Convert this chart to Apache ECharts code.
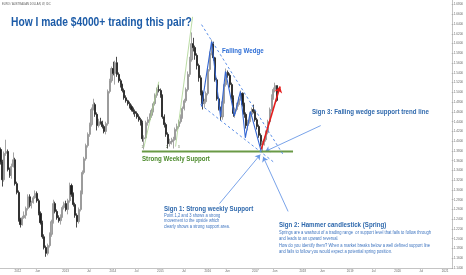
<!DOCTYPE html>
<html><head><meta charset="utf-8">
<script src="https://cdn.jsdelivr.net/npm/echarts@6/dist/echarts.min.js"></script>
<style>html,body{margin:0;padding:0;background:#fff}#c{width:466px;height:275px}</style>
</head><body><div id="c"></div>
<script>
// ---- data ----
const startDate = [2011, 7, 20];   // first (bi-weekly) candle
const stepDays = 14;
const firstOpen = 1.383;
const closes = [1.358,1.321,1.375,1.379,1.342,1.330,1.348,1.362,1.313,1.295,
1.239,1.229,1.243,1.248,1.262,1.286,1.268,1.274,1.284,1.293,
1.278,1.252,1.233,1.204,1.182,1.170,1.186,1.209,1.235,1.272,
1.256,1.243,1.237,1.245,1.264,1.272,1.260,1.278,1.309,1.291,
1.270,1.248,1.235,1.260,1.295,1.336,1.364,1.391,1.414,1.434,
1.465,1.475,1.455,1.432,1.440,1.438,1.430,1.420,1.436,1.502,
1.524,1.549,1.539,1.561,1.537,1.524,1.516,1.504,1.489,1.483,
1.477,1.471,1.465,1.461,1.457,1.450,1.444,1.438,1.405,1.407,
1.438,1.444,1.453,1.463,1.477,1.494,1.506,1.504,1.494,1.450,
1.434,1.414,1.395,1.399,1.399,1.403,1.424,1.430,1.440,1.450,
1.467,1.483,1.506,1.537,1.567,1.600,1.592,1.576,1.555,1.530,
1.500,1.477,1.481,1.498,1.547,1.580,1.600,1.571,1.526,1.487,
1.467,1.450,1.481,1.516,1.541,1.535,1.516,1.489,1.457,1.465,
1.475,1.487,1.498,1.475,1.455,1.432,1.440,1.455,1.465,1.461,
1.444,1.430,1.412,1.393,1.399,1.403,1.418,1.440,1.465,1.489,
1.506,1.514,1.4836];
const highs = [1.387,1.362,1.379,1.403,1.383,1.346,1.354,1.377,1.366,1.317,
1.299,1.243,1.247,1.256,1.266,1.291,1.291,1.278,1.288,1.299,
1.297,1.282,1.256,1.237,1.209,1.186,1.190,1.213,1.239,1.280,
1.276,1.260,1.248,1.250,1.268,1.276,1.278,1.282,1.315,1.313,
1.295,1.274,1.252,1.264,1.299,1.340,1.368,1.395,1.418,1.438,
1.469,1.487,1.479,1.459,1.446,1.448,1.442,1.434,1.440,1.506,
1.528,1.553,1.563,1.565,1.573,1.541,1.528,1.518,1.508,1.494,
1.485,1.481,1.475,1.469,1.465,1.461,1.455,1.448,1.442,1.412,
1.442,1.450,1.457,1.467,1.481,1.498,1.510,1.516,1.508,1.496,
1.455,1.438,1.418,1.405,1.407,1.409,1.428,1.436,1.444,1.455,
1.471,1.487,1.510,1.543,1.573,1.623,1.612,1.596,1.580,1.559,
1.535,1.504,1.487,1.502,1.553,1.584,1.608,1.604,1.573,1.530,
1.491,1.471,1.485,1.520,1.549,1.545,1.539,1.520,1.494,1.469,
1.479,1.491,1.504,1.500,1.479,1.459,1.444,1.459,1.469,1.475,
1.465,1.448,1.434,1.416,1.401,1.409,1.422,1.444,1.469,1.496,
1.510,1.520,1.514];
const lows = [1.352,1.307,1.317,1.370,1.338,1.325,1.323,1.346,1.309,1.291,
1.235,1.223,1.227,1.241,1.241,1.258,1.264,1.262,1.272,1.282,
1.274,1.248,1.229,1.200,1.178,1.163,1.166,1.182,1.204,1.231,
1.252,1.239,1.233,1.229,1.243,1.260,1.256,1.250,1.274,1.286,
1.266,1.243,1.223,1.231,1.256,1.291,1.332,1.360,1.387,1.409,
1.430,1.463,1.450,1.422,1.428,1.434,1.426,1.416,1.414,1.432,
1.498,1.520,1.535,1.516,1.532,1.520,1.510,1.500,1.485,1.479,
1.473,1.467,1.461,1.455,1.450,1.446,1.440,1.432,1.399,1.383,
1.405,1.432,1.440,1.448,1.459,1.473,1.489,1.500,1.489,1.446,
1.428,1.409,1.385,1.389,1.393,1.385,1.401,1.420,1.426,1.436,
1.446,1.463,1.479,1.502,1.532,1.563,1.584,1.567,1.547,1.522,
1.494,1.465,1.469,1.477,1.494,1.543,1.576,1.565,1.522,1.483,
1.463,1.442,1.444,1.477,1.512,1.530,1.510,1.485,1.450,1.448,
1.461,1.471,1.483,1.471,1.448,1.426,1.422,1.436,1.450,1.457,
1.440,1.424,1.407,1.389,1.377,1.391,1.399,1.414,1.436,1.461,
1.485,1.500,1.481];
const lastPrice = 1.4836;

const yTicks = [1.14,1.16,1.18,1.20,1.22,1.24,1.26,1.28,1.30,1.32,1.34,1.36,1.38,1.40,
  1.42,1.44,1.46,1.48,1.50,1.52,1.54,1.56,1.58,1.60,1.62,1.64,1.66,1.68];
const xTickDates = ['2012-01-01','2012-06-01','2013-01-01','2013-07-01','2014-01-01','2014-07-01',
  '2015-01-01','2015-07-01','2016-01-01','2016-06-01','2017-01-01','2017-06-01','2018-01-01',
  '2018-06-01','2019-01-01','2019-07-01','2020-01-01','2020-07-01','2021-01-01'];
const xTickLabels = ['2012','Jun','2013','Jul','2014','Jul','2015','Jul','2016','Jun','2017','Jun',
  '2018','Jun','2019','Jul','2020','Jul','2021'];

// annotations (date, price)
const supportLine = [['2014-08-12', 1.3787], ['2017-10-18', 1.3787]];
const greenRay1 = [['2014-08-27', 1.387], ['2014-12-20', 1.522]];
const greenRay2 = [['2015-04-28', 1.389], ['2015-09-06', 1.655]];
const wedgeUpper = [['2015-11-14', 1.639], ['2017-08-03', 1.3725]];
const wedgeLower = [['2015-11-06', 1.475], ['2017-05-18', 1.358]];
const wedgeZigDates = ['2015-11-14','2016-01-30','2016-04-08','2016-05-16','2016-07-24',
  '2016-09-08','2016-10-16','2016-11-24','2017-02-15'];
const wedgeZigPrices = [1.471, 1.604, 1.450, 1.543, 1.452, 1.502, 1.407, 1.461, 1.379];
const redArrow = [['2017-02-15', 1.383], ['2017-07-10', 1.512]];
const blueArrows = [
  [['2016-03-31', 1.272], ['2017-02-08', 1.3725]],
  [['2017-09-10', 1.256], ['2017-03-02', 1.368]],
  [['2018-05-19', 1.432], ['2017-03-18', 1.379]]
];

// ---- build ----
const DAY = 86400000;
function ts(s) { const p = s.split('-').map(Number); return Date.UTC(p[0], p[1]-1, p[2]); }
const t0 = Date.UTC(startDate[0], startDate[1], startDate[2]);
const candles = closes.map((c, i) => {
  const o = i === 0 ? firstOpen : closes[i-1];
  return [t0 + i*stepDays*DAY, o, c, lows[i], highs[i]];
});
const pts = arr => arr.map(d => [ts(d[0]), d[1]]);
const xTickTs = xTickDates.map(ts);
const labelMap = {};
xTickTs.forEach((t, i) => labelMap[t] = xTickLabels[i]);

const fontN = "'Liberation Sans','Arial',sans-serif";
const NARROW = 0.82;
const chart = echarts.init(document.getElementById('c'), null, {renderer: 'canvas'});

function lineSeries(data, style) {
  return {type: 'line', data: pts(data), showSymbol: false, symbol: 'none', silent: true,
    lineStyle: style, z: 5, animation: false};
}

const blueStyle = {color: '#6a98e6', width: 0.9, type: 'solid'};
const arrowItems = blueArrows.map(a => [
  {coord: [ts(a[0][0]), a[0][1]], symbol: 'none', lineStyle: blueStyle},
  {coord: [ts(a[1][0]), a[1][1]], symbol: 'arrow', symbolSize: 5}
]);
const redItem = [
  {coord: [ts(redArrow[0][0]), redArrow[0][1]], symbol: 'none', lineStyle: {color: '#e41e1e', width: 1.6, type: 'solid'}},
  {coord: [ts(redArrow[1][0]), redArrow[1][1]], symbol: 'arrow', symbolSize: 6}
];

const txt = (x, y, text, size, weight, color, extra) => ({
  type: 'text', x: x, y: y, scaleX: NARROW, silent: true, z: 10,
  style: Object.assign({text: text, fontSize: size, fontWeight: weight, fontFamily: fontN,
    fill: color, align: 'left', verticalAlign: 'middle'}, extra || {})
});

chart.setOption({
  animation: false,
  backgroundColor: '#ffffff',
  grid: {left: 0, right: 11, top: 0, bottom: 7, containLabel: false},
  xAxis: {
    type: 'value', min: ts('2011-08-16'), max: ts('2021-02-21'),
    axisLine: {show: true, lineStyle: {color: '#c4c4c4', width: 1}},
    axisTick: {show: false},
    splitLine: {show: false},
    axisLabel: {customValues: xTickTs, formatter: v => labelMap[v] || '', fontSize: 3,
      color: '#666', margin: 2, fontFamily: 'Liberation Sans'}
  },
  yAxis: {
    type: 'value', position: 'right', min: 1.14, max: 1.6895,
    axisLine: {show: true, lineStyle: {color: '#c4c4c4', width: 1}},
    axisTick: {show: true, customValues: yTicks, length: 1.5, lineStyle: {color: '#aaa'}},
    splitLine: {show: false},
    axisLabel: {customValues: yTicks, formatter: v => v.toFixed(4), fontSize: 3,
      color: '#666', margin: 2, fontFamily: 'Liberation Sans'}
  },
  series: [
    {
      type: 'candlestick', data: candles, barWidth: 1.6, silent: true,
      itemStyle: {color: '#a8a8a8', color0: '#1c1c1c', borderColor: '#8e8e8e', borderColor0: '#1c1c1c', borderWidth: 0.8},
      markLine: {
        silent: true, animation: false, symbol: ['none', 'arrow'], symbolSize: 5,
        label: {show: false},
        data: [
          ...arrowItems,
          redItem,
          {yAxis: lastPrice, symbol: 'none', lineStyle: {opacity: 0, width: 0},
           label: {show: true, position: 'end', distance: 0.5, formatter: lastPrice.toFixed(4),
             backgroundColor: '#111', color: '#fff', fontSize: 3.2, padding: [1.2, 1.5],
             fontFamily: 'Liberation Sans'}}
        ]
      }
    },
    lineSeries(supportLine, {color: '#6a9a46', width: 2}),
    lineSeries(greenRay1, {color: '#a9d38e', width: 0.8}),
    lineSeries(greenRay2, {color: '#a9d38e', width: 0.8}),
    lineSeries(wedgeUpper, {color: '#5a8ee8', width: 1, type: [2.5, 2.5]}),
    lineSeries(wedgeLower, {color: '#5a8ee8', width: 1, type: [2.5, 2.5]}),
    {type: 'line', data: wedgeZigDates.map((d, i) => [ts(d), wedgeZigPrices[i]]), showSymbol: false,
      symbol: 'none', silent: true, z: 6, lineStyle: {color: '#3467d4', width: 1.1}}
  ],
  graphic: [
    txt(2, 4.5, 'EURO / AUSTRALIAN DOLLAR, W, IDC', 3.3, 'normal', '#555'),
    txt(11, 22.8, 'How I made $4000+ trading this pair?', 12.5, 'bold', '#1d5ca8'),
    txt(222, 51, 'Falling Wedge', 7.5, 'bold', '#2f6fd6'),
    txt(142, 158.5, 'Strong Weekly Support', 7.5, 'bold', '#4b8a2b'),
    txt(141.5, 147.5, '1', 3.5, 'normal', '#3c5a2a'),
    txt(166, 147.5, '2', 3.5, 'normal', '#3c5a2a'),
    txt(178, 147.5, '3', 3.5, 'normal', '#3c5a2a'),
    txt(312, 112, 'Sign 3: Falling wedge support trend line', 7.5, 'bold', '#2f69ad'),
    txt(164, 208.5, 'Sign 1: Strong weekly Support', 7.5, 'bold', '#2f69ad'),
    txt(164, 220.8, 'Point 1,2 and 3 shows a strong\nmovement to the upside which\nclearly shows a strong support area.', 5, 'normal', '#3f75c0', {lineHeight: 5.6}),
    txt(279, 224.5, 'Sign 2: Hammer candlestick (Spring)', 7.5, 'bold', '#2f69ad'),
    txt(279, 235.8, 'Springs are a washout of a trading range  or support level that fails to follow through\nand leads to an upward reversal.', 5, 'normal', '#3f75c0', {lineHeight: 5.4}),
    txt(279, 248.7, 'How do you identify them? When a market breaks below a well defined support line\nand fails to follow you would expect a potential spring position.', 5, 'normal', '#3f75c0', {lineHeight: 5.4})
  ]
});
</script>
</body></html>
